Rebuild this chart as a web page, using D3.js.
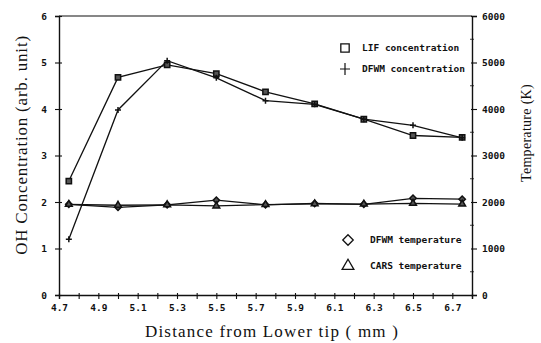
<!DOCTYPE html>
<html>
<head>
<meta charset="utf-8">
<script src="https://cdn.jsdelivr.net/npm/d3@7"></script>
<style>
  body { margin: 0; background: #fff; }
  .tick text { font-family: "DejaVu Sans Mono", monospace; font-weight: bold; font-size: 9.5px; }
  .legend text { font-family: "DejaVu Sans Mono", monospace; font-weight: bold; font-size: 9.5px; }
  .title { font-family: "Liberation Serif", serif; fill: #111; }
</style>
</head>
<body>
<svg id="chart" width="541" height="343"></svg>
<script>
// positions along the flame (mm)
const distance = [4.75, 5.0, 5.25, 5.5, 5.75, 6.0, 6.25, 6.5, 6.75];

// OH concentration (arb. unit)
const lifConc  = [2.45, 4.68, 4.95, 4.76, 4.37, 4.11, 3.78, 3.43, 3.39];
const dfwmConc = [1.20, 3.98, 5.04, 4.67, 4.18, 4.10, 3.78, 3.65, 3.38];

// temperature (K)
const dfwmTemp = [1950, 1885, 1940, 2040, 1940, 1970, 1950, 2080, 2060];
const carsTemp = [1950, 1930, 1940, 1915, 1945, 1960, 1955, 1970, 1955];

const xTickLabels = [4.7, 4.9, 5.1, 5.3, 5.5, 5.7, 5.9, 6.1, 6.3, 6.5, 6.7];
const concTicks = [0, 1, 2, 3, 4, 5, 6];
const tempTicks = [0, 1000, 2000, 3000, 4000, 5000, 6000];

const svg = d3.select("#chart");
const mLeft = 59, mRight = 472, mTop = 16, mBottom = 295;

let x = d3.scaleLinear().domain([4.7, 6.8]).range([mLeft, mRight]);
let yConc = d3.scaleLinear().domain([0, 6]).range([mBottom, mTop]);
let yTemp = d3.scaleLinear().domain([0, 6000]).range([mBottom, mTop]);

// frame top line
svg.append("line").attr("x1", mLeft).attr("x2", mRight).attr("y1", mTop).attr("y2", mTop)
    .attr("stroke", "#111").attr("stroke-width", 1.2);

// bottom axis: ticks every 0.1, labels every 0.2
let xAxis = d3.axisBottom(x)
    .tickValues(d3.range(47, 69).map(d => d / 10))
    .tickSize(4)
    .tickFormat(d => xTickLabels.some(v => Math.abs(v - d) < 1e-6) ? d.toFixed(1) : "");
let gx = svg.append("g").attr("transform", `translate(0,${mBottom})`).call(xAxis);
gx.selectAll("line").attr("y1", -2);
gx.selectAll("text").attr("dy", "0.95em");

// left axis
let gl = svg.append("g").attr("transform", `translate(${mLeft},0)`)
    .call(d3.axisLeft(yConc).tickValues(concTicks).tickSize(4).tickFormat(d3.format("d")));
gl.selectAll("line").attr("x1", 3);
gl.selectAll("text").attr("x", -12);

// right axis
let gr = svg.append("g").attr("transform", `translate(${mRight},0)`)
    .call(d3.axisRight(yTemp).tickValues(tempTicks).tickSize(5).tickFormat(d3.format("d")));
gr.selectAll("line").attr("x1", -1);
gr.selectAll("text").attr("x", 10);
// minor ticks on right axis
svg.append("g").selectAll("line").data(d3.range(500, 6000, 1000)).enter().append("line")
    .attr("x1", mRight - 2).attr("x2", mRight + 2)
    .attr("y1", d => yTemp(d)).attr("y2", d => yTemp(d))
    .attr("stroke", "#111").attr("stroke-width", 0.8);

svg.selectAll(".domain").attr("stroke", "#111").attr("stroke-width", 1.4);
svg.selectAll(".tick line").attr("stroke", "#111").attr("stroke-width", 1.1);
svg.selectAll(".tick text").attr("fill", "#111");

// series
const series = [
    { vals: lifConc,  y: yConc, sym: d3.symbolSquare,   size: 28 },
    { vals: dfwmConc, y: yConc, sym: d3.symbolCross,    size: 0 },
    { vals: dfwmTemp, y: yTemp, sym: d3.symbolDiamond2, size: 26 },
    { vals: carsTemp, y: yTemp, sym: d3.symbolTriangle, size: 20 }
];

series.forEach(s => {
    let line = d3.line().x((d, i) => x(distance[i])).y(d => s.y(d));
    svg.append("path").datum(s.vals).attr("d", line)
        .attr("fill", "none").attr("stroke", "#111").attr("stroke-width", 1.3);
    let pts = svg.append("g").selectAll("g").data(s.vals).enter().append("g")
        .attr("transform", (d, i) => `translate(${x(distance[i])},${s.y(d)})`);
    if (s.size > 0) {
        pts.append("path").attr("d", d3.symbol().type(s.sym).size(s.size))
            .attr("fill", "#555").attr("stroke", "#111").attr("stroke-width", 1.5);
    } else {
        pts.append("path").attr("d", "M-3,0H3M0,-3V3")
            .attr("stroke", "#111").attr("stroke-width", 1.5);
    }
});

// legend
const legendItems = [
    { label: "LIF concentration",  sym: d3.symbolSquare,   size: 70, x: 345, y: 48, tx: 362 },
    { label: "DFWM concentration", sym: null,              size: 0,  x: 345, y: 69, tx: 362 },
    { label: "DFWM temperature",   sym: d3.symbolDiamond2, size: 70, x: 348, y: 240, tx: 370 },
    { label: "CARS temperature",   sym: d3.symbolTriangle, size: 60, x: 348, y: 266, tx: 370 }
];
let lg = svg.append("g").attr("class", "legend");
legendItems.forEach(it => {
    if (it.sym) {
        lg.append("path").attr("d", d3.symbol().type(it.sym).size(it.size))
            .attr("transform", `translate(${it.x},${it.y})`)
            .attr("fill", "none").attr("stroke", "#111").attr("stroke-width", 1.3);
    } else {
        lg.append("path").attr("d", "M-5,0H5M0,-6V6")
            .attr("transform", `translate(${it.x},${it.y})`)
            .attr("stroke", "#111").attr("stroke-width", 1.2);
    }
    lg.append("text").attr("x", it.tx).attr("y", it.y).attr("dy", "0.35em")
        .attr("fill", "#111").text(it.label);
});

// titles
svg.append("text").attr("class", "title").attr("font-size", 17)
    .attr("text-anchor", "middle").attr("letter-spacing", 0.8)
    .attr("transform", "translate(27,145) rotate(-90)")
    .text("OH Concentration (arb. unit)");
svg.append("text").attr("class", "title").attr("font-size", 17)
    .attr("text-anchor", "middle").attr("x", 272).attr("y", 337)
    .attr("letter-spacing", 1.2)
    .text("Distance from Lower tip ( mm )");
svg.append("text").attr("class", "title").attr("font-size", 14)
    .attr("text-anchor", "middle").attr("letter-spacing", 0.3)
    .attr("transform", "translate(531,133) rotate(-90)")
    .text("Temperature (K)");
</script>
</body>
</html>
